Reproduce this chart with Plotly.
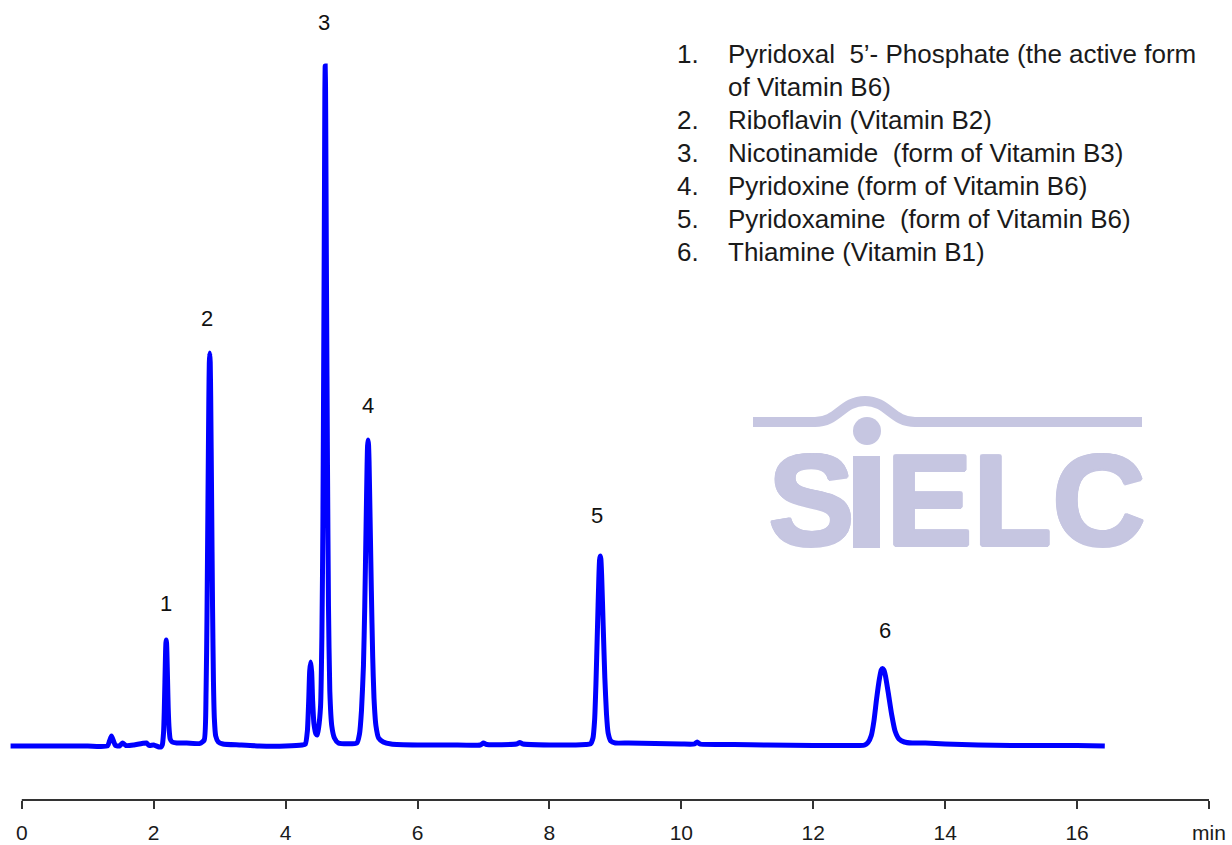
import plotly.graph_objects as go

# ---------------- data ----------------
time_min = [
    -0.17, 0.5, 1.0, 1.30, 1.33, 1.36, 1.39, 1.42, 1.48, 1.53, 1.58, 1.70, 1.89, 1.93, 2.00, 2.08, 2.11,
    2.13, 2.15, 2.16, 2.17, 2.18, 2.185, 2.19, 2.195, 2.20, 2.21, 2.22, 2.235, 2.25, 2.28, 2.35,
    2.50, 2.70, 2.766, 2.794, 2.808, 2.822, 2.836, 2.843, 2.85, 2.857, 2.864, 2.878, 2.892, 2.906, 2.92,
    2.94, 2.98, 3.05,
    3.30, 3.60, 4.00, 4.25,
    4.30, 4.33, 4.35, 4.365, 4.38, 4.395, 4.41, 4.43, 4.46, 4.48, 4.50, 4.53, 4.55, 4.565, 4.58, 4.59,
    4.595, 4.60, 4.605, 4.61, 4.62, 4.635, 4.65, 4.67, 4.70, 4.74, 4.80,
    5.08, 5.12, 5.15, 5.18, 5.20, 5.22, 5.235, 5.2425, 5.25, 5.2575, 5.265, 5.28, 5.30, 5.32, 5.34, 5.37,
    5.41, 5.48, 5.60,
    6.00, 6.50, 6.95, 7.00, 7.05, 7.50, 7.55, 7.60, 8.00, 8.40, 8.55,
    8.62, 8.66, 8.685, 8.705, 8.727, 8.749, 8.76, 8.77, 8.78, 8.792, 8.815, 8.84, 8.865, 8.89, 8.93, 9.00,
    9.20, 9.60, 10.00, 10.20, 10.24, 10.28, 10.80, 11.30, 12.00, 12.70,
    12.78, 12.83, 12.88, 12.92, 12.96, 13.005, 13.03, 13.05, 13.07, 13.095, 13.14, 13.19, 13.24, 13.30,
    13.38, 13.50,
    13.60, 13.70, 14.00, 14.50, 15.00, 15.50, 16.00, 16.42,
]
signal = [
    0, 0, 0, 0, 5, 10, 5, 0.5, 0, 3, 0.5, 1, 3, 0.5, 1, -1, -1,
    1, 14, 34, 64, 94, 103, 106, 103, 94, 66, 38, 16, 7, 4, 3,
    3, 2.5, 6, 55, 130, 240, 348, 383, 393, 384, 350, 248, 140, 64, 27,
    10, 4, 2,
    1, 0, 0, 1,
    2, 15, 45, 75, 84, 74, 45, 22, 12, 11, 18, 40, 110, 220, 420, 570,
    655, 680, 660, 600, 460, 280, 140, 55, 20, 8, 3,
    3, 12, 35, 80, 140, 220, 280, 300, 306, 301, 285, 230, 155, 90, 48, 20,
    8, 4, 2,
    1, 1, 1, 3, 1.5, 2, 3.5, 2, 1, 1, 1.5,
    2, 8, 26, 62, 115, 168, 186, 190, 187, 170, 120, 68, 32, 13, 5, 3,
    3, 2.5, 2, 2, 4, 2, 1.5, 1, 0.5, 0.5,
    1, 3.5, 10.5, 25, 47, 68, 76, 77.5, 76, 70, 52, 31, 15, 7,
    4, 3,
    3, 3, 2, 1, 0.5, 0.5, 0.5, 0,
]

peak_labels = ["1", "2", "3", "4", "5", "6"]
peak_label_x = [2.18, 2.81, 4.58, 5.25, 8.72, 13.09]
peak_label_y = [143, 428, 724, 341, 231, 116]

legend_numbers = ["1.", "", "2.", "3.", "4.", "5.", "6."]
legend_texts = [
    "Pyridoxal\u00a0 5\u2019- Phosphate (the active form",
    "of Vitamin B6)",
    "Riboflavin (Vitamin B2)",
    "Nicotinamide\u00a0 (form of Vitamin B3)",
    "Pyridoxine (form of Vitamin B6)",
    "Pyridoxamine\u00a0 (form of Vitamin B6)",
    "Thiamine (Vitamin B1)",
]

tick_vals = [0, 2, 4, 6, 8, 10, 12, 14, 16, 18]
tick_text = ["0", "2", "4", "6", "8", "10", "12", "14", "16", "min"]

# ---------------- layout helpers (pixel -> paper) ----------------
W, H = 1232, 845
ML, MR, MT, MB = 2, 23, 10, 45
PW, PH = W - ML - MR, H - MT - MB


def px(x):
    return (x - ML) / PW


def py(y):
    return (H - MB - y) / PH


FONT = "Liberation Sans, Arial, sans-serif"
LOGO = "#c6c6e1"

fig = go.Figure()
fig.add_trace(go.Scatter(
    x=time_min, y=signal, mode="lines",
    line=dict(color="#0000ff", width=5, shape="spline", smoothing=0.5),
    hoverinfo="skip", showlegend=False,
))

annotations = []
for lab, lx, ly in zip(peak_labels, peak_label_x, peak_label_y):
    annotations.append(dict(x=lx, y=ly, xref="x", yref="y", text=lab, showarrow=False,
                            font=dict(family=FONT, size=22, color="#111111"),
                            xanchor="center", yanchor="middle"))

for i, (num, txt) in enumerate(zip(legend_numbers, legend_texts)):
    yc = 54 + 33 * i
    if num:
        annotations.append(dict(x=px(675), y=py(yc), xref="paper", yref="paper", text=num,
                                showarrow=False, xanchor="left", yanchor="middle",
                                font=dict(family=FONT, size=26, color="#1a1a1a")))
    annotations.append(dict(x=px(726), y=py(yc), xref="paper", yref="paper", text=txt,
                            showarrow=False, xanchor="left", yanchor="middle",
                            font=dict(family=FONT, size=26, color="#1a1a1a")))

# SIELC watermark letters
thick = ", ".join("%gpx %gpx 0 %s" % (dx, dy, LOGO)
                  for dx, dy in [(1.5, 0), (-1.5, 0), (0, 1.5), (0, -1.5), (1, 1), (-1, -1), (1, -1), (-1, 1)])
for letters, cx in [("S", 811), ("ELC", 1016)]:
    annotations.append(dict(x=px(cx), y=py(500), xref="paper", yref="paper", text="<b>%s</b>" % letters,
                            showarrow=False, xanchor="center", yanchor="middle",
                            font=dict(family=FONT, size=130, color=LOGO, shadow=thick)))

shapes = []
# x axis line
shapes.append(dict(type="line", xref="x", yref="paper", x0=0, x1=18, y0=0, y1=0,
                   line=dict(color="#333333", width=2.2)))
# watermark: wave line
pts = "M {a},{b} L {c},{b} C {d},{b} {e},{f} {g},{f} C {h},{f} {i},{b} {j},{b} L {k},{b}".format(
    a=px(753), b=py(422), c=px(815), d=px(838), e=px(842), f=py(401), g=px(865),
    h=px(888), i=px(892), j=px(915), k=px(1142))
shapes.append(dict(type="path", xref="paper", yref="paper", path=pts,
                   line=dict(color=LOGO, width=10), layer="below"))
# dot of the i
shapes.append(dict(type="circle", xref="paper", yref="paper", x0=px(853), x1=px(881),
                   y0=py(445), y1=py(417), fillcolor=LOGO, line=dict(width=0), layer="below"))
# stem of the i
shapes.append(dict(type="rect", xref="paper", yref="paper", x0=px(853), x1=px(880),
                   y0=py(548), y1=py(456), fillcolor=LOGO, line=dict(width=0), layer="below"))

fig.update_layout(
    width=W, height=H,
    margin=dict(l=ML, r=MR, t=MT, b=MB),
    paper_bgcolor="white", plot_bgcolor="white",
    showlegend=False,
    xaxis=dict(range=[-0.3, 18], tickmode="array", tickvals=tick_vals, ticktext=tick_text,
               ticks="outside", ticklen=8, tickwidth=2, tickcolor="#333333",
               ticklabelstandoff=6,
               showline=False, showgrid=False, zeroline=False,
               tickfont=dict(family=FONT, size=21, color="#1a1a1a")),
    yaxis=dict(range=[-54, 736], visible=False, showgrid=False, zeroline=False),
    annotations=annotations,
    shapes=shapes,
)

fig.write_html("out.html", config={"displayModeBar": False},
               post_script="document.body.style.margin='0px';")
